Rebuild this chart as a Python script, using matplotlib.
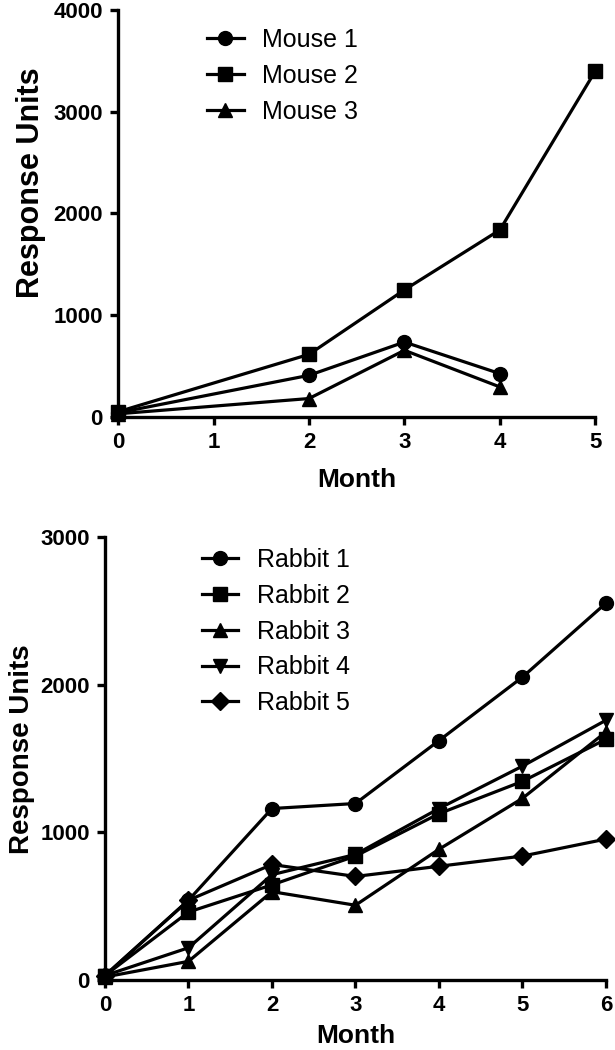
import matplotlib
matplotlib.use("Agg")
import matplotlib.pyplot as plt

# mouse panel
mouse_months = [0, 2, 3, 4, 5]
mouse1 = [40, 408, 735, 425, None]
mouse2 = [50, 614, 1248, 1837, 3399]
mouse3 = [30, 180, 654, 294, None]
mouse_labels = ["Mouse 1", "Mouse 2", "Mouse 3"]

# rabbit panel
rabbit_months = [0, 1, 2, 3, 4, 5, 6]
rabbit1 = [30, 540, 1161, 1195, 1621, 2051, 2552]
rabbit2 = [30, 460, 644, 839, 1126, 1345, 1630]
rabbit3 = [20, 126, 598, 506, 885, 1230, 1680]
rabbit4 = [30, 218, 713, 850, 1161, 1448, 1759]
rabbit5 = [30, 540, 782, 701, 770, 839, 954]
rabbit_labels = ["Rabbit 1", "Rabbit 2", "Rabbit 3", "Rabbit 4", "Rabbit 5"]

plt.rcParams["font.family"] = ["Liberation Sans", "DejaVu Sans"]


def style_axes(ax, xmax, ymax, ystep, ylab_size, ylab_xy, xlab_y):
    for s in ("top", "right"):
        ax.spines[s].set_visible(False)
    for s in ("left", "bottom"):
        ax.spines[s].set_linewidth(2.4)
    ax.set_xlim(0, xmax)
    ax.set_ylim(0, ymax)
    ax.set_xticks(range(0, xmax + 1))
    ax.set_yticks(range(0, ymax + 1, ystep))
    ax.tick_params(width=2.4, length=6, labelsize=16, direction="out", pad=5)
    for t in ax.get_xticklabels() + ax.get_yticklabels():
        t.set_fontweight("bold")
    ax.set_xlabel("Month", fontsize=19, fontweight="bold")
    ax.set_ylabel("Response Units", fontsize=ylab_size, fontweight="bold")
    ax.yaxis.set_label_coords(*ylab_xy)
    ax.xaxis.set_label_coords(0.5, xlab_y)


def draw(ax, x, y, marker, label, ms=10):
    pts = [(a, b) for a, b in zip(x, y) if b is not None]
    ax.plot([p[0] for p in pts], [p[1] for p in pts], color="black", lw=2.3,
            marker=marker, ms=ms, label=label, clip_on=False, zorder=3)


def add_legend(ax, anchor):
    ax.legend(loc="upper left", bbox_to_anchor=anchor, frameon=False,
              prop={"size": 18}, borderpad=0, borderaxespad=0,
              handlelength=1.45, handletextpad=0.75, labelspacing=0.47)


fig = plt.figure(figsize=(6.15, 10.5), dpi=100)

ax1 = fig.add_axes([0.192, 0.603, 0.776, 0.3876])
draw(ax1, mouse_months, mouse1, "o", mouse_labels[0])
draw(ax1, mouse_months, mouse2, "s", mouse_labels[1])
draw(ax1, mouse_months, mouse3, "^", mouse_labels[2])
style_axes(ax1, 5, 4000, 1000, 22, (-0.15, 0.575), -0.125)
add_legend(ax1, (0.187, 0.955))

ax2 = fig.add_axes([0.1707, 0.0667, 0.8146, 0.4219])
draw(ax2, rabbit_months, rabbit1, "o", rabbit_labels[0])
draw(ax2, rabbit_months, rabbit2, "s", rabbit_labels[1])
draw(ax2, rabbit_months, rabbit3, "^", rabbit_labels[2])
draw(ax2, rabbit_months, rabbit4, "v", rabbit_labels[3])
draw(ax2, rabbit_months, rabbit5, "D", rabbit_labels[4], ms=9)
style_axes(ax2, 6, 3000, 1000, 20, (-0.14, 0.521), -0.10)
add_legend(ax2, (0.194, 0.975))

fig.savefig("out.png", dpi=100)
